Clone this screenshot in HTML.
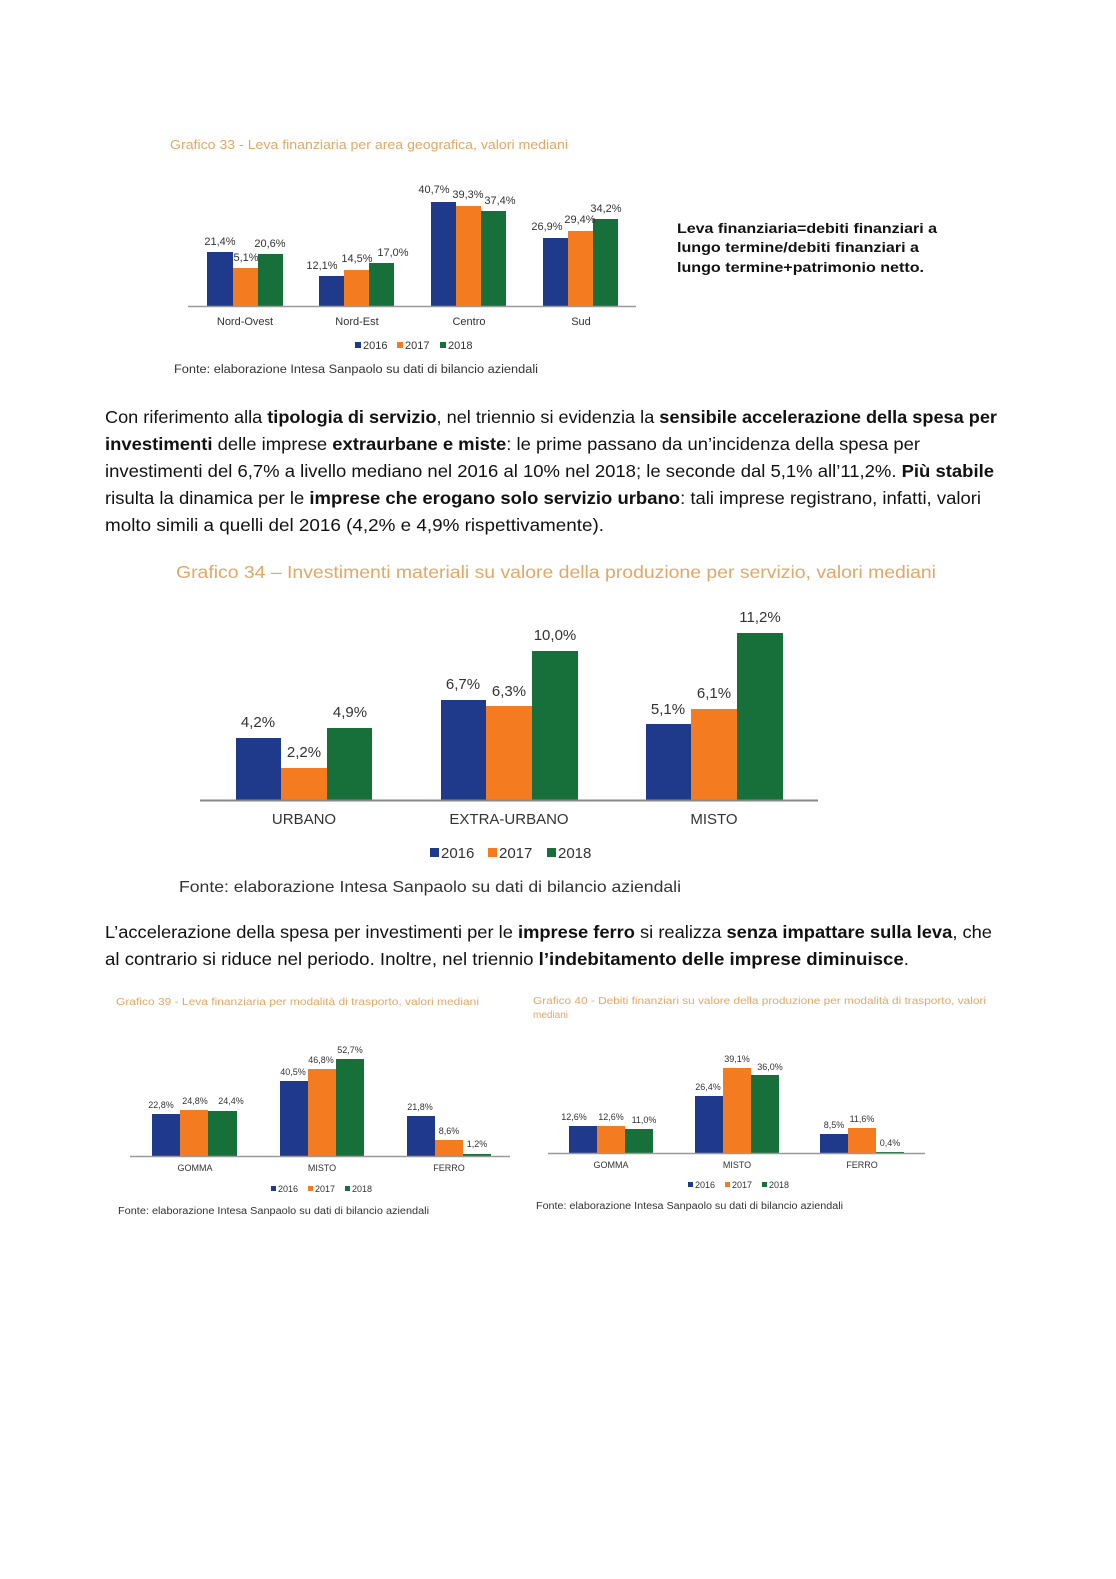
<!DOCTYPE html>
<html><head><meta charset="utf-8"><style>
body{margin:0;background:#fff}
svg{display:block}
.p{font-family:"Liberation Sans",sans-serif;font-size:17.5px;fill:#111}
.b{font-weight:bold}
.t{font-family:"Liberation Sans",sans-serif;fill:#333}
</style></head><body>
<svg width="1116" height="1579" viewBox="0 0 1116 1579" xmlns="http://www.w3.org/2000/svg">
<g class="t">
<!-- Chart 33 -->
<text x="170" y="149" font-size="12.5" fill="#e3a766" textLength="398" lengthAdjust="spacingAndGlyphs">Grafico 33 - Leva finanziaria per area geografica, valori mediani</text>
<g fill="#1f3a8a"><rect x="207" y="252" width="26" height="54"/><rect x="319" y="276" width="25" height="30"/><rect x="431" y="202" width="25" height="104"/><rect x="543" y="238" width="25" height="68"/></g>
<g fill="#f47b20"><rect x="233" y="268" width="25" height="38"/><rect x="344" y="270" width="25" height="36"/><rect x="456" y="206" width="25" height="100"/><rect x="568" y="231" width="25" height="75"/></g>
<g fill="#17703a"><rect x="258" y="254" width="25" height="52"/><rect x="369" y="263" width="25" height="43"/><rect x="481" y="211" width="25" height="95"/><rect x="593" y="219" width="25" height="87"/></g>
<line x1="188" y1="306.5" x2="636" y2="306.5" stroke="#999" stroke-width="1.5"/>
<g font-size="11" text-anchor="middle">
<text x="220" y="245">21,4%</text><text x="246" y="261">5,1%</text><text x="270" y="247">20,6%</text>
<text x="322" y="269">12,1%</text><text x="357" y="262">14,5%</text><text x="393" y="256">17,0%</text>
<text x="434" y="193">40,7%</text><text x="468" y="198">39,3%</text><text x="500" y="204">37,4%</text>
<text x="547" y="230">26,9%</text><text x="580" y="223">29,4%</text><text x="606" y="212">34,2%</text>
<text x="245" y="325">Nord-Ovest</text><text x="357" y="325">Nord-Est</text><text x="469" y="325">Centro</text><text x="581" y="325">Sud</text>
</g>
<g font-size="11"><rect x="355" y="342" width="6" height="6" fill="#1f3a8a"/><text x="363" y="349">2016</text><rect x="397" y="342" width="6" height="6" fill="#f47b20"/><text x="405" y="349">2017</text><rect x="440" y="342" width="6" height="6" fill="#17703a"/><text x="448" y="349">2018</text></g>
<text x="174" y="373" font-size="11.5" textLength="364" lengthAdjust="spacingAndGlyphs">Fonte: elaborazione Intesa Sanpaolo su dati di bilancio aziendali</text>
<text x="677" y="233" font-size="14" font-weight="bold" fill="#111" textLength="260" lengthAdjust="spacingAndGlyphs">Leva finanziaria=debiti finanziari a</text>
<text x="677" y="252" font-size="14" font-weight="bold" fill="#111" textLength="242" lengthAdjust="spacingAndGlyphs">lungo termine/debiti finanziari a</text>
<text x="677" y="272" font-size="14" font-weight="bold" fill="#111" textLength="247" lengthAdjust="spacingAndGlyphs">lungo termine+patrimonio netto.</text>
</g>

<g class="p">
<text x="105" y="423" textLength="892" lengthAdjust="spacingAndGlyphs">Con riferimento alla <tspan class="b">tipologia di servizio</tspan>, nel triennio si evidenzia la <tspan class="b">sensibile accelerazione della spesa per</tspan></text>
<text x="105" y="450" textLength="815" lengthAdjust="spacingAndGlyphs"><tspan class="b">investimenti</tspan> delle imprese <tspan class="b">extraurbane e miste</tspan>: le prime passano da un’incidenza della spesa per</text>
<text x="105" y="477" textLength="889" lengthAdjust="spacingAndGlyphs">investimenti del 6,7% a livello mediano nel 2016 al 10% nel 2018; le seconde dal 5,1% all’11,2%. <tspan class="b">Più stabile</tspan></text>
<text x="105" y="504" textLength="876" lengthAdjust="spacingAndGlyphs">risulta la dinamica per le <tspan class="b">imprese che erogano solo servizio urbano</tspan>: tali imprese registrano, infatti, valori</text>
<text x="105" y="531" textLength="499" lengthAdjust="spacingAndGlyphs">molto simili a quelli del 2016 (4,2% e 4,9% rispettivamente).</text>
</g>

<g class="t">
<!-- Chart 34 -->
<text x="176" y="578" font-size="17.5" fill="#e3a766" textLength="760" lengthAdjust="spacingAndGlyphs">Grafico 34 – Investimenti materiali su valore della produzione per servizio, valori mediani</text>
<g fill="#1f3a8a"><rect x="236" y="738" width="45" height="62"/><rect x="441" y="700" width="45" height="100"/><rect x="646" y="724" width="45" height="76"/></g>
<g fill="#f47b20"><rect x="281" y="768" width="46" height="32"/><rect x="486" y="706" width="46" height="94"/><rect x="691" y="709" width="46" height="91"/></g>
<g fill="#17703a"><rect x="327" y="728" width="45" height="72"/><rect x="532" y="651" width="46" height="149"/><rect x="737" y="633" width="46" height="167"/></g>
<line x1="200" y1="800.5" x2="818" y2="800.5" stroke="#888" stroke-width="2"/>
<g font-size="15" text-anchor="middle">
<text x="258" y="727">4,2%</text><text x="304" y="757">2,2%</text><text x="350" y="717">4,9%</text>
<text x="463" y="689">6,7%</text><text x="509" y="696">6,3%</text><text x="555" y="640">10,0%</text>
<text x="668" y="714">5,1%</text><text x="714" y="698">6,1%</text><text x="760" y="622">11,2%</text>
<text x="304" y="824">URBANO</text><text x="509" y="824">EXTRA-URBANO</text><text x="714" y="824">MISTO</text>
</g>
<g font-size="15"><rect x="430" y="848" width="9" height="9" fill="#1f3a8a"/><text x="441" y="858">2016</text><rect x="488" y="848" width="9" height="9" fill="#f47b20"/><text x="499" y="858">2017</text><rect x="547" y="848" width="9" height="9" fill="#17703a"/><text x="558" y="858">2018</text></g>
<text x="179" y="892" font-size="16" textLength="502" lengthAdjust="spacingAndGlyphs">Fonte: elaborazione Intesa Sanpaolo su dati di bilancio aziendali</text>
</g>

<g class="p">
<text x="105" y="938" textLength="887" lengthAdjust="spacingAndGlyphs">L’accelerazione della spesa per investimenti per le <tspan class="b">imprese ferro</tspan> si realizza <tspan class="b">senza impattare sulla leva</tspan>, che</text>
<text x="105" y="965" textLength="804" lengthAdjust="spacingAndGlyphs">al contrario si riduce nel periodo. Inoltre, nel triennio <tspan class="b">l’indebitamento delle imprese diminuisce</tspan>.</text>
</g>

<g class="t">
<!-- Chart 39 -->
<text x="116" y="1005" font-size="10" fill="#e3a766" textLength="363" lengthAdjust="spacingAndGlyphs">Grafico 39 - Leva finanziaria per modalità di trasporto, valori mediani</text>
<g fill="#1f3a8a"><rect x="152" y="1114" width="28" height="42"/><rect x="280" y="1081" width="28" height="75"/><rect x="407" y="1116" width="28" height="40"/></g>
<g fill="#f47b20"><rect x="180" y="1110" width="28" height="46"/><rect x="308" y="1069" width="28" height="87"/><rect x="435" y="1140" width="28" height="16"/></g>
<g fill="#17703a"><rect x="208" y="1111" width="29" height="45"/><rect x="336" y="1059" width="28" height="97"/><rect x="463" y="1154" width="28" height="2"/></g>
<line x1="130" y1="1156.5" x2="510" y2="1156.5" stroke="#999" stroke-width="1.5"/>
<g font-size="9" text-anchor="middle">
<text x="161" y="1108">22,8%</text><text x="195" y="1104">24,8%</text><text x="231" y="1104">24,4%</text>
<text x="293" y="1075">40,5%</text><text x="321" y="1063">46,8%</text><text x="350" y="1053">52,7%</text>
<text x="420" y="1110">21,8%</text><text x="449" y="1134">8,6%</text><text x="477" y="1147">1,2%</text>
<text x="195" y="1171">GOMMA</text><text x="322" y="1171">MISTO</text><text x="449" y="1171">FERRO</text>
</g>
<g font-size="9"><rect x="271" y="1186" width="5" height="5" fill="#1f3a8a"/><text x="278" y="1192">2016</text><rect x="308" y="1186" width="5" height="5" fill="#f47b20"/><text x="315" y="1192">2017</text><rect x="345" y="1186" width="5" height="5" fill="#17703a"/><text x="352" y="1192">2018</text></g>
<text x="118" y="1214" font-size="10" textLength="311" lengthAdjust="spacingAndGlyphs">Fonte: elaborazione Intesa Sanpaolo su dati di bilancio aziendali</text>

<!-- Chart 40 -->
<text x="533" y="1004" font-size="10" fill="#e3a766" textLength="453" lengthAdjust="spacingAndGlyphs">Grafico 40 - Debiti finanziari su valore della produzione per modalità di trasporto, valori</text>
<text x="533" y="1018" font-size="10" fill="#e3a766">mediani</text>
<g fill="#1f3a8a"><rect x="569" y="1126" width="28" height="27"/><rect x="695" y="1096" width="28" height="57"/><rect x="820" y="1134" width="28" height="19"/></g>
<g fill="#f47b20"><rect x="597" y="1126" width="28" height="27"/><rect x="723" y="1068" width="28" height="85"/><rect x="848" y="1128" width="28" height="25"/></g>
<g fill="#17703a"><rect x="625" y="1129" width="28" height="24"/><rect x="751" y="1075" width="28" height="78"/><rect x="876" y="1152" width="28" height="1"/></g>
<line x1="548" y1="1153.5" x2="925" y2="1153.5" stroke="#999" stroke-width="1.5"/>
<g font-size="9" text-anchor="middle">
<text x="574" y="1120">12,6%</text><text x="611" y="1120">12,6%</text><text x="644" y="1123">11,0%</text>
<text x="708" y="1090">26,4%</text><text x="737" y="1062">39,1%</text><text x="770" y="1070">36,0%</text>
<text x="834" y="1128">8,5%</text><text x="862" y="1122">11,6%</text><text x="890" y="1146">0,4%</text>
<text x="611" y="1168">GOMMA</text><text x="737" y="1168">MISTO</text><text x="862" y="1168">FERRO</text>
</g>
<g font-size="9"><rect x="688" y="1182" width="5" height="5" fill="#1f3a8a"/><text x="695" y="1188">2016</text><rect x="725" y="1182" width="5" height="5" fill="#f47b20"/><text x="732" y="1188">2017</text><rect x="762" y="1182" width="5" height="5" fill="#17703a"/><text x="769" y="1188">2018</text></g>
<text x="536" y="1209" font-size="10" textLength="307" lengthAdjust="spacingAndGlyphs">Fonte: elaborazione Intesa Sanpaolo su dati di bilancio aziendali</text>
</g>
</svg>
</body></html>
